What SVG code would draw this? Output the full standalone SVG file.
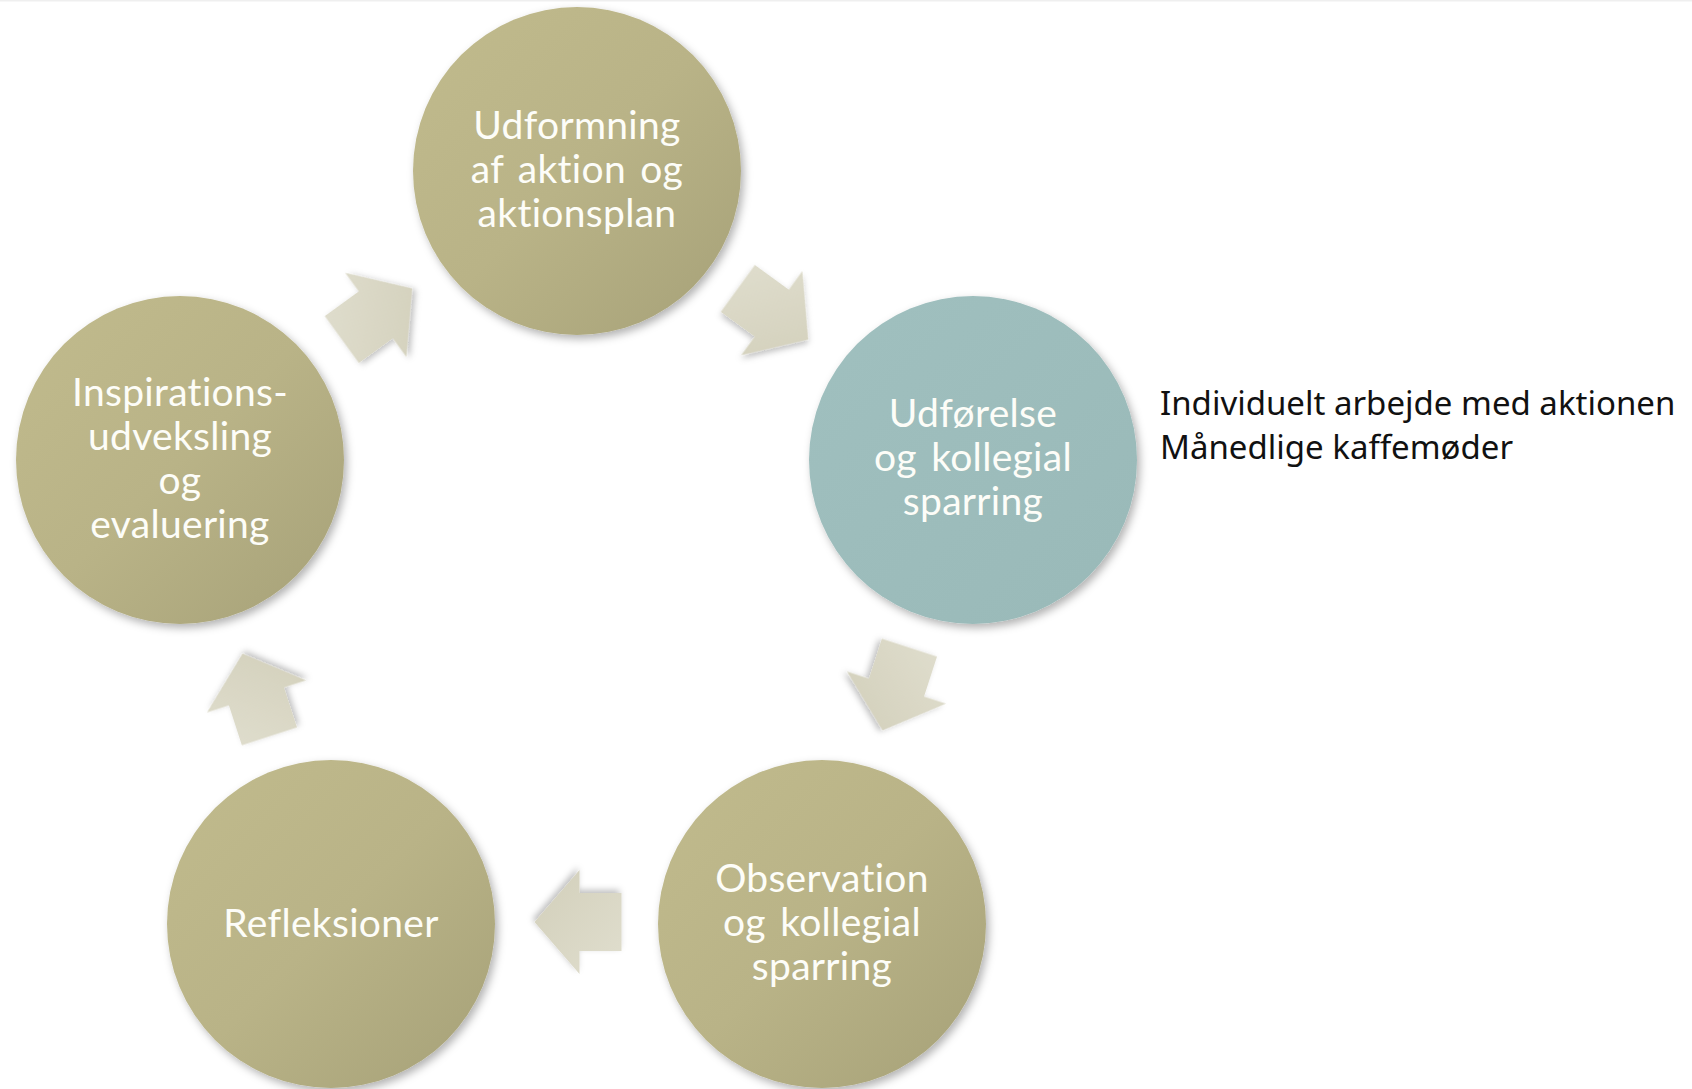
<svg xmlns="http://www.w3.org/2000/svg" width="1692" height="1089" viewBox="0 0 1692 1089">
  <defs>
    <linearGradient id="olive" x1="0" y1="0" x2="1" y2="1">
      <stop offset="0" stop-color="#c1bb8d"/>
      <stop offset="0.5" stop-color="#b9b387"/>
      <stop offset="1" stop-color="#a6a178"/>
    </linearGradient>
    <linearGradient id="teal" x1="0" y1="0" x2="1" y2="1">
      <stop offset="0" stop-color="#a0c0bf"/>
      <stop offset="1" stop-color="#99b9b8"/>
    </linearGradient>
    <linearGradient id="arrowFill" x1="0" y1="0" x2="1" y2="1">
      <stop offset="0" stop-color="#e0dece"/>
      <stop offset="1" stop-color="#d2cfba"/>
    </linearGradient>
    <filter id="shadow" x="-20%" y="-20%" width="140%" height="140%">
      <feDropShadow dx="3" dy="4" stdDeviation="4" flood-color="#000" flood-opacity="0.3"/>
    </filter>
    <filter id="ashadow" x="-30%" y="-30%" width="160%" height="160%">
      <feDropShadow dx="2" dy="3" stdDeviation="3" flood-color="#000" flood-opacity="0.25"/>
    </filter>
    <polygon id="arrow" points="-43.5,-29 -1.5,-29 -1.5,-52 43.5,0 -1.5,52 -1.5,29 -43.5,29"/>
  </defs>
  <style>
    .node { filter: url(#shadow); }
    .olive { fill: url(#olive); }
    .teal { fill: url(#teal); }
    .label { font-family: "Lato", "Open Sans", "DejaVu Sans", sans-serif; font-size: 39px; fill: #fdfdf8; text-anchor: middle; font-variant-ligatures: none; word-spacing: 4px; letter-spacing: 0.3px; }
    .note { font-family: "Noto Sans", "Lato", "Liberation Sans", sans-serif; font-size: 33px; fill: #111; }
    .arr { fill: url(#arrowFill); filter: url(#ashadow); }
  </style>
  <rect x="0" y="0" width="1692" height="1089" fill="#ffffff"/>
  <rect x="0" y="0" width="1692" height="1.5" fill="#efefef"/>

  <g id="connectors">
    <use href="#arrow" class="arr" transform="translate(377,314) rotate(-36)"/>
    <use href="#arrow" class="arr" transform="translate(773,314) rotate(36)"/>
    <use href="#arrow" class="arr" transform="translate(896,689) rotate(108)"/>
    <use href="#arrow" class="arr" transform="translate(578,922) rotate(180)"/>
    <use href="#arrow" class="arr" transform="translate(256,695) rotate(-108)"/>
  </g>

  <g id="node-udformning">
    <circle class="node olive" cx="577" cy="171" r="164"/>
    <text class="label"><tspan x="577" y="139">Udformning</tspan><tspan x="577" y="183">af aktion og</tspan><tspan x="577" y="227">aktionsplan</tspan></text>
  </g>

  <g id="node-udfoerelse">
    <circle class="node teal" cx="973" cy="460" r="164"/>
    <text class="label"><tspan x="973" y="427">Udførelse</tspan><tspan x="973" y="471">og kollegial</tspan><tspan x="973" y="515">sparring</tspan></text>
  </g>

  <g id="node-observation">
    <circle class="node olive" cx="822" cy="924" r="164"/>
    <text class="label"><tspan x="822" y="892">Observation</tspan><tspan x="822" y="936">og kollegial</tspan><tspan x="822" y="980">sparring</tspan></text>
  </g>

  <g id="node-refleksioner">
    <circle class="node olive" cx="331" cy="924" r="164"/>
    <text class="label" x="331" y="937">Refleksioner</text>
  </g>

  <g id="node-inspiration">
    <circle class="node olive" cx="180" cy="460" r="164"/>
    <text class="label"><tspan x="180" y="406">Inspirations-</tspan><tspan x="180" y="450">udveksling</tspan><tspan x="180" y="494">og</tspan><tspan x="180" y="538">evaluering</tspan></text>
  </g>

  <g id="note">
    <text class="note"><tspan x="1160" y="415">Individuelt arbejde med aktionen</tspan><tspan x="1160" y="459">Månedlige kaffemøder</tspan></text>
  </g>
</svg>
